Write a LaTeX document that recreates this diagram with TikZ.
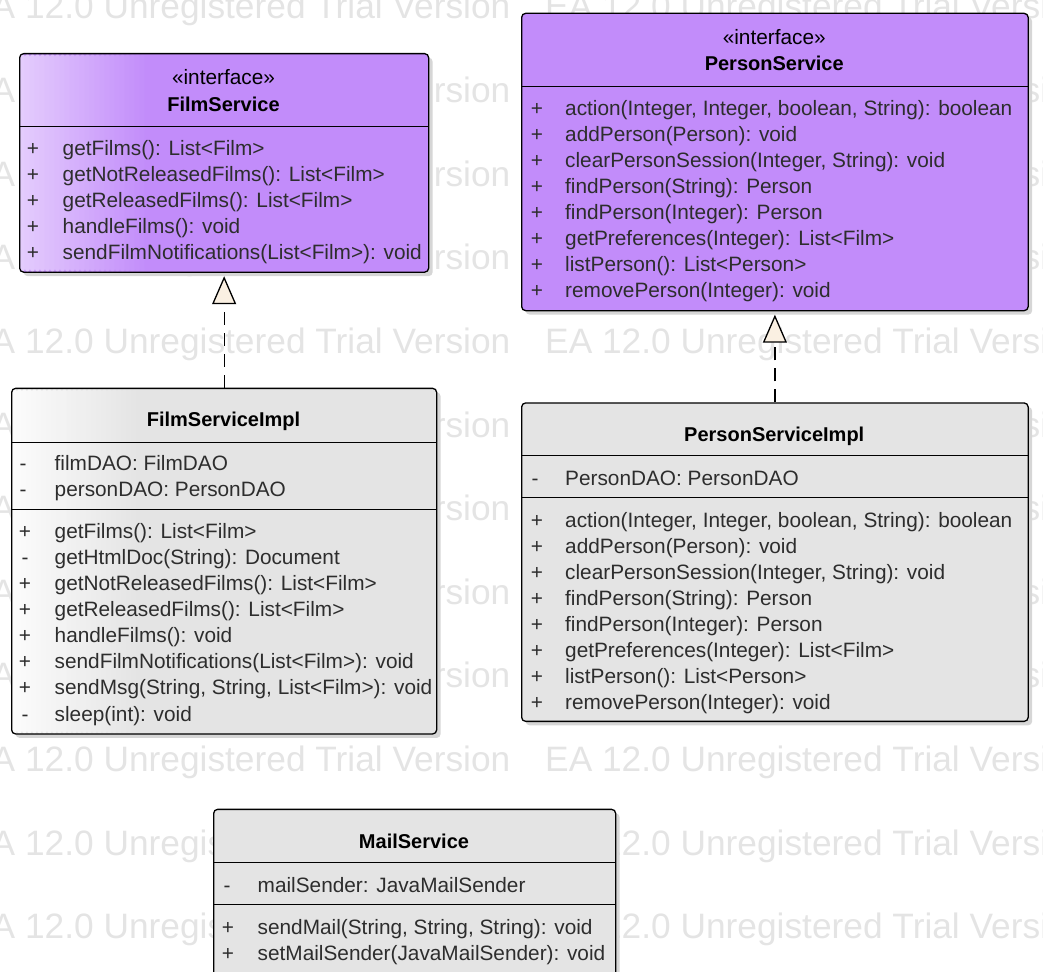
\documentclass[tikz,border=0pt]{standalone}
\usepackage{fontspec}
\setmainfont{Liberation Sans}
\usetikzlibrary{arrows.meta,shadows}
\definecolor{purp}{RGB}{194,140,250}
\definecolor{purpL}{RGB}{228,204,253}
\definecolor{boxgray}{RGB}{228,228,228}
\definecolor{boxgrayL}{RGB}{252,252,252}
\definecolor{shadowgray}{RGB}{214,214,214}
\definecolor{wmgray}{RGB}{228,228,228}
\definecolor{txtgray}{RGB}{45,45,45}
\definecolor{tipfill}{RGB}{250,240,226}
\begin{document}
\begin{tikzpicture}[x=1pt,y=-1pt,
  umlbox/.style={draw=black, line width=1.3pt, rounded corners=4pt, inner sep=0pt, anchor=north west,
    drop shadow={shadow xshift=4pt, shadow yshift=-4pt, fill=shadowgray, opacity=1}},
  gradbox/.style 2 args={path picture={\foreach \k in {0,...,25}{\pgfmathtruncatemacro\pc{\k*4}
    \fill[#2!\pc!#1] ([xshift=\k*5pt]path picture bounding box.north west) rectangle ([xshift=\k*5pt+5.6pt]path picture bounding box.south west);}}},
  mem/.style={anchor=base west, inner sep=0pt, text=txtgray, font=\fontsize{20.8}{24}\selectfont},
  vis/.style={anchor=base, inner sep=0pt, text=txtgray, font=\fontsize{20.8}{24}\selectfont},
  cname/.style={anchor=base, inner sep=0pt, font=\fontsize{20}{24}\selectfont\bfseries},
  stereo/.style={anchor=base, inner sep=0pt, text=black, font=\fontsize{20.8}{24}\selectfont},
  divider/.style={line width=1.3pt},
  wm/.style={anchor=base west, inner sep=0pt, text=wmgray, font=\fontsize{35.3}{40}\selectfont},
  realize/.style={line width=1.3pt, dash pattern=on 13pt off 8pt,
    -{Triangle[width=24pt,length=28pt,fill=tipfill,line width=1.3pt]}}]
\useasboundingbox (0,0) rectangle (1043,971);
\clip (0,0) rectangle (1043,971);

% watermark
\foreach \r in {0,...,11}{
  \foreach \c/\xx in {1/-32,2/545}{
    \node[wm] (wm-\r-\c) at (\xx,{19+83.6*\r}) {EA 12.0 Unregistered Trial Version};
  }
}

% FilmService
\node[umlbox, fill=purp, gradbox={purpL}{purp}, minimum width=409pt, minimum height=218.5pt] (fs) at (19,53) {};
\draw[divider] (19,126.7) -- (428,126.7);
\node[stereo] (fs-st) at (223.5,85) {«interface»};
\node[cname] (fs-name) at (223.5,111) {FilmService};
\foreach \tx [count=\i] in {{getFilms(): List<Film>},{getNotReleasedFilms(): List<Film>},{getReleasedFilms(): List<Film>},{handleFilms(): void},{sendFilmNotifications(List<Film>): void}}{
  \node[vis] (fs-v\i) at (33,{155+26*(\i-1)}) {+};
  \node[mem] (fs-op\i) at (62.5,{155+26*(\i-1)}) {\tx};
}

% PersonService
\node[umlbox, fill=purp, minimum width=506.5pt, minimum height=297.3pt] (ps) at (521,12.7) {};
\draw[divider] (521,86.7) -- (1027.5,86.7);
\node[stereo] (ps-st) at (774.25,45) {«interface»};
\node[cname] (ps-name) at (774.25,70.7) {PersonService};
\foreach \tx [count=\i] in {{action(Integer, Integer, boolean, String): boolean},{addPerson(Person): void},{clearPersonSession(Integer, String): void},{findPerson(String): Person},{findPerson(Integer): Person},{getPreferences(Integer): List<Film>},{listPerson(): List<Person>},{removePerson(Integer): void}}{
  \node[vis] (ps-v\i) at (537,{115+26*(\i-1)}) {+};
  \node[mem] (ps-op\i) at (565,{115+26*(\i-1)}) {\tx};
}

% FilmServiceImpl
\node[umlbox, fill=boxgray, gradbox={boxgrayL}{boxgray}, minimum width=425pt, minimum height=345.6pt] (fsi) at (11,387.7) {};
\draw[divider] (11,442.3) -- (436,442.3);
\draw[divider] (11,509.3) -- (436,509.3);
\node[cname] (fsi-name) at (223.5,426.7) {FilmServiceImpl};
\foreach \tx [count=\i] in {{filmDAO: FilmDAO},{personDAO: PersonDAO}}{
  \node[vis] (fsi-av\i) at (23,{470+26.5*(\i-1)}) {-};
  \node[mem] (fsi-at\i) at (54.5,{470+26.5*(\i-1)}) {\tx};
}
\foreach \vs/\tx [count=\i] in {+/{getFilms(): List<Film>},-/{getHtmlDoc(String): Document},+/{getNotReleasedFilms(): List<Film>},+/{getReleasedFilms(): List<Film>},+/{handleFilms(): void},+/{sendFilmNotifications(List<Film>): void},+/{sendMsg(String, String, List<Film>): void},-/{sleep(int): void}}{
  \node[vis] (fsi-v\i) at (25,{538.3+26.1*(\i-1)}) {\vs};
  \node[mem] (fsi-op\i) at (54.5,{538.3+26.1*(\i-1)}) {\tx};
}

% PersonServiceImpl
\node[umlbox, fill=boxgray, minimum width=506.5pt, minimum height=318.4pt] (psi) at (521,402.3) {};
\draw[divider] (521,455.3) -- (1027.5,455.3);
\draw[divider] (521,497.7) -- (1027.5,497.7);
\node[cname] (psi-name) at (774.25,441.7) {PersonServiceImpl};
\node[vis] (psi-av1) at (535,485) {-};
\node[mem] (psi-at1) at (565,485) {PersonDAO: PersonDAO};
\foreach \tx [count=\i] in {{action(Integer, Integer, boolean, String): boolean},{addPerson(Person): void},{clearPersonSession(Integer, String): void},{findPerson(String): Person},{findPerson(Integer): Person},{getPreferences(Integer): List<Film>},{listPerson(): List<Person>},{removePerson(Integer): void}}{
  \node[vis] (psi-v\i) at (537,{527+26*(\i-1)}) {+};
  \node[mem] (psi-op\i) at (565,{527+26*(\i-1)}) {\tx};
}

% MailService
\node[umlbox, fill=boxgray, minimum width=402pt, minimum height=175pt] (ms) at (213,808.7) {};
\draw[divider] (213,862.7) -- (615,862.7);
\draw[divider] (213,904.3) -- (615,904.3);
\node[cname] (ms-name) at (414,848.3) {MailService};
\node[vis] (ms-av1) at (227,892.7) {-};
\node[mem] (ms-at1) at (257.5,892.7) {mailSender: JavaMailSender};
\node[vis] (ms-v1) at (228,934) {+};
\node[mem] (ms-op1) at (257.5,934) {sendMail(String, String, String): void};
\node[vis] (ms-v2) at (228,960) {+};
\node[mem] (ms-op2) at (257.5,960) {setMailSender(JavaMailSender): void};

% realizations
\draw[realize] (fsi.north) -- ([yshift=-3.4pt]fs.south);
\draw[realize] (psi.north) -- ([yshift=-3.4pt]ps.south);
\end{tikzpicture}
\end{document}
